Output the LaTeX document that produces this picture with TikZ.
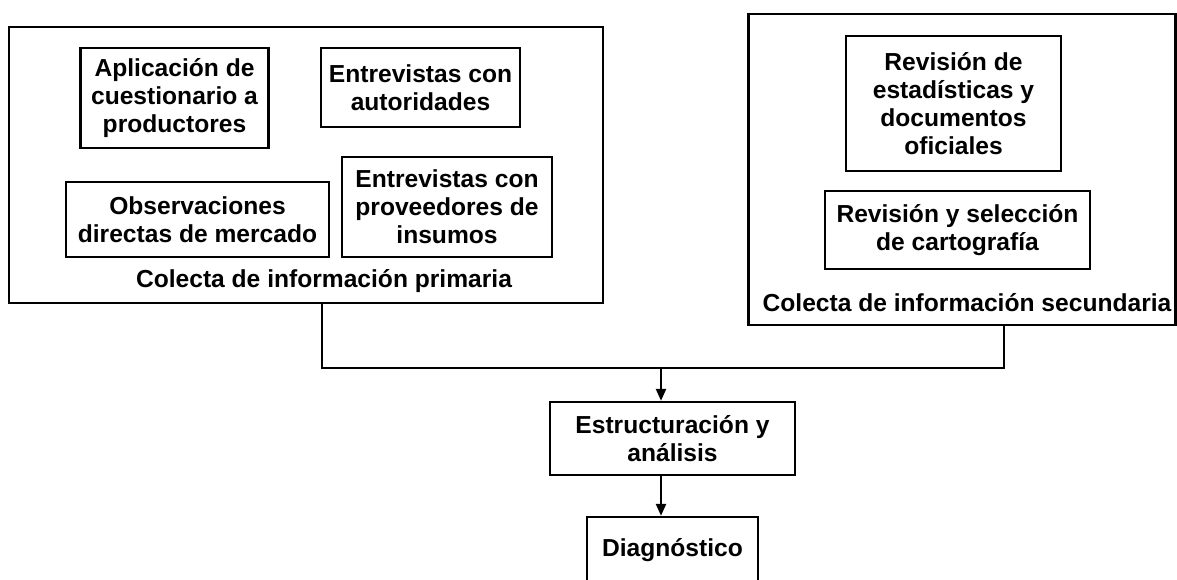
\documentclass[tikz,border=0pt]{standalone}
\usepackage{fontspec}
\setmainfont{Liberation Sans}
\usetikzlibrary{arrows.meta}

\begin{document}
\begin{tikzpicture}[x=1pt, y=-1pt, >={Triangle[length=12pt, width=10pt]}, line width=2.4pt,
  txt/.style={font=\bfseries\fontsize{24.6}{28}\selectfont, align=center, inner sep=0pt},
  box/.style={txt, draw},
  group/.style={draw}]
  \useasboundingbox (0,0) rectangle (1177,579);
  % Outer groups
  \node[group, minimum width=594, minimum height=276] (prim) at (306,165) {};
  \node[group, minimum width=427, minimum height=311] (sec) at (962,169.5) {};
  % Primary sources
  \node[box, minimum width=188, minimum height=100] (apl) at (174.5,98) {Aplicación de\\cuestionario a\\productores};
  \node[box, minimum width=199, minimum height=79] (aut) at (420.5,87.5) {Entrevistas con\\autoridades};
  \node[box, minimum width=263, minimum height=75] (obs) at (197.5,219.5) {Observaciones\\directas de mercado};
  \node[box, minimum width=210, minimum height=100] (prov) at (447,207) {Entrevistas con\\proveedores de\\insumos};
  \node[txt] (primlbl) at (324,281) {Colecta de información primaria};
  % Secondary sources
  \node[box, minimum width=215, minimum height=135] (est) at (953.5,103.5) {Revisión de\\estadísticas y\\documentos\\oficiales};
  \node[box, minimum width=265, minimum height=78] (carto) at (957.5,230) {Revisión y selección\\de cartografía};
  \node[txt] (seclbl) at (967,303) {Colecta de información secundaria};
  % Processing
  \node[box, minimum width=245, minimum height=73] (estr) at (672.5,438.5) {Estructuración y\\análisis};
  \node[box, minimum width=171, minimum height=66] (diag) at (672.5,550) {Diagnóstico};
  % Connectors
  \coordinate (junc) at (661,368);
  \draw ([xshift=16pt]prim.south) |- (junc) -| ([xshift=42pt]sec.south);
  \draw[->] (junc) -- (junc |- estr.north);
  \draw[->] (estr.south -| junc) -- (diag.north -| junc);
\end{tikzpicture}
\end{document}
